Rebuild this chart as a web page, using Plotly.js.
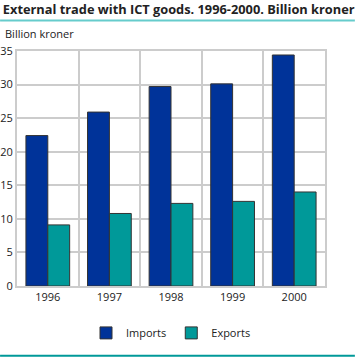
<!DOCTYPE html>
<html>
<head>
<meta charset="utf-8">
<script src="https://cdn.plot.ly/plotly-3.0.1.min.js"></script>
<style>
html,body{margin:0;padding:0;background:#fff;overflow:hidden;}
#chart{width:355px;height:357px;}
</style>
</head>
<body>
<div id="chart"></div>
<script>
const years = ["1996", "1997", "1998", "1999", "2000"];
const imports = [22.4, 25.9, 29.7, 30.1, 34.4];
const exports_ = [9.1, 10.8, 12.3, 12.6, 14.0];
const yTicks = [0, 5, 10, 15, 20, 25, 30, 35];

const idx = years.map((_, i) => i);
const font = "'Open Sans', 'DejaVu Sans', sans-serif";

const data = [
  {type: "bar", name: "Imports", x: idx, y: imports,
   marker: {color: "#003399", line: {color: "#333333", width: 1}}},
  {type: "bar", name: "Exports", x: idx, y: exports_,
   marker: {color: "#009999", line: {color: "#333333", width: 1}}},
  {type: "scatter", x: [], y: [], xaxis: "x2", showlegend: false, hoverinfo: "skip"}
];

const layout = {
  width: 355, height: 357,
  margin: {l: 17, r: 30, t: 18, b: 71, autoexpand: false},
  paper_bgcolor: "#fff", plot_bgcolor: "#fff",
  font: {family: font, size: 11, color: "#222"},
  barmode: "group", bargap: 0.29, bargroupgap: 0,
  showlegend: true,
  legend: {orientation: "h", x: 0.5, xanchor: "center", y: -0.175, yanchor: "middle",
           font: {size: 11}},
  xaxis: {range: [-0.5, 4.5], tickvals: idx, ticktext: years, showgrid: false, automargin: false,
          zeroline: false, showline: true, mirror: true, linecolor: "#cccccc", linewidth: 2,
          ticks: "", tickfont: {size: 11, color: "#222"}, fixedrange: true},
  xaxis2: {overlaying: "x", range: [-0.5, 4.5], tickvals: [0.5, 1.5, 2.5, 3.5], automargin: false,
           showgrid: true, gridcolor: "#cccccc", gridwidth: 2, showticklabels: false,
           ticks: "", zeroline: false, showline: false},
  yaxis: {domain: [0, 0.877], range: [0, 35], tickvals: yTicks, showgrid: true,
          gridcolor: "#cccccc", gridwidth: 2, automargin: false,
          zeroline: false, showline: true, mirror: true, linecolor: "#cccccc", linewidth: 2,
          ticks: "", tickfont: {size: 11, color: "#222"}, fixedrange: true},
  title: {text: "<b>External trade with ICT goods. 1996-2000. Billion kroner</b>",
          x: 0.008, xanchor: "left", xref: "container", y: 0.972, yref: "container", yanchor: "middle",
          automargin: false,
          font: {family: font, size: 12.8, color: "#222"}},
  annotations: [
    {text: "Billion kroner", xref: "paper", yref: "paper", x: -0.045, xanchor: "left",
     y: 0.907, yanchor: "bottom", showarrow: false, font: {size: 11, color: "#222"}}
  ],
  shapes: [
    {type: "line", xref: "paper", yref: "paper", layer: "above",
     x0: -0.055, x1: 1.097, y0: 0.991, y1: 0.991,
     line: {color: "#66cccc", width: 2}},
    {type: "line", xref: "paper", yref: "paper", layer: "above",
     x0: -0.055, x1: 1.097, y0: -0.26, y1: -0.26,
     line: {color: "#009999", width: 2}}
  ]
};

Plotly.newPlot("chart", data, layout, {staticPlot: true, displayModeBar: false});
</script>
</body>
</html>
